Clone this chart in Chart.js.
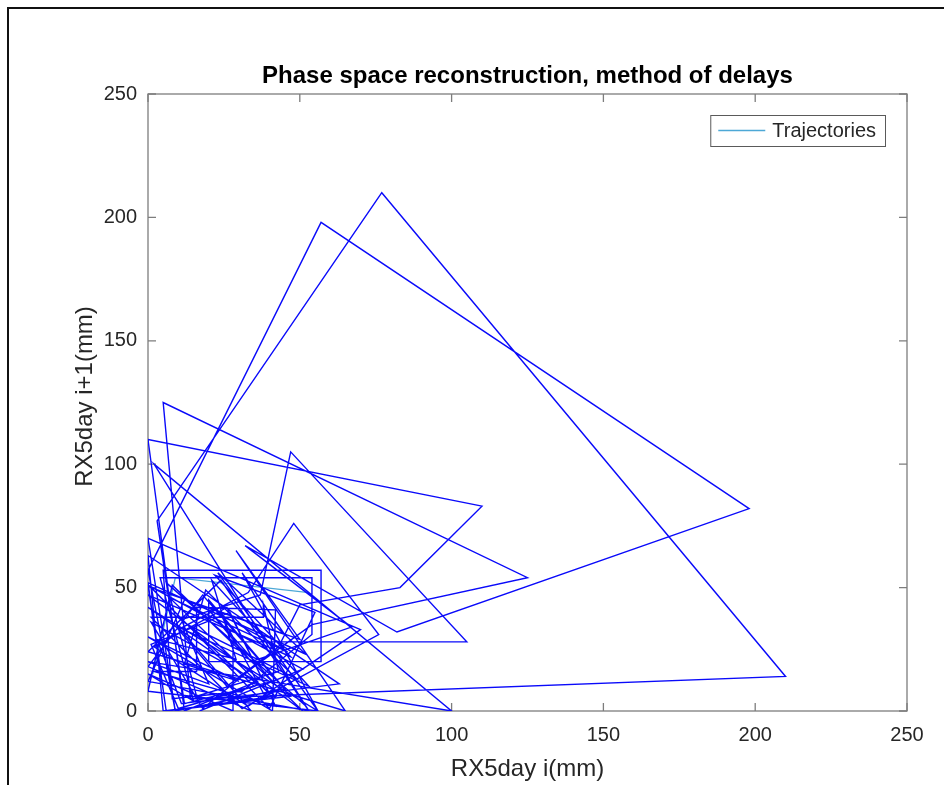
<!DOCTYPE html>
<html>
<head>
<meta charset="utf-8">
<title>Phase space reconstruction</title>
<script src="https://cdn.jsdelivr.net/npm/chart.js@4.4.1/dist/chart.umd.min.js"></script>
<style>
    html, body { margin: 0; padding: 0; background: #fff; }
    #wrap { width: 944px; height: 785px; position: relative; }
</style>
</head>
<body>
<div id="wrap"><canvas id="phaseChart" width="944" height="785"></canvas></div>
<script>
// RX5day series (mm): point i is (rx5day[i], rx5day[i+1])
const rx5day = [
    9, 0, 57, 198, 82, 32, 67, 34, 20, 41, 12, 3, 77, 210, 14, 5, 125, 54, 35, 18, 1, 36,
    12, 0, 110, 83, 50, 43, 26, 10, 33, 48, 76, 31, 1, 38, 38, 43, 16, 6, 52, 2, 100, 0, 20,
    11, 37, 47, 105, 28, 28, 0, 15, 4, 54, 54, 31, 8, 5, 57, 57, 20, 20, 45, 9, 0, 70, 33,
    2, 26, 42, 2, 16, 16, 42, 41, 0, 30, 12, 19, 49, 13, 35, 10, 1, 27, 40, 7, 46, 24, 39,
    5, 0, 63, 11, 3, 29, 21, 53, 10, 34, 0, 18, 47, 6, 0, 52, 23, 56, 0, 8, 51, 0, 47,
    22, 55, 40, 1, 50, 29, 65, 0, 24, 53, 0, 12, 45, 31, 56, 0, 42, 6, 0, 51, 17, 0
];

// the short light-blue trajectory piece (the one in the legend)
const trajX = [1.6, 9, 53];
const trajY = [15, 54, 48];

const axisTicks = [0, 50, 100, 150, 200, 250];

const titleText = 'Phase space reconstruction, method of delays';
const xTitle = 'RX5day i(mm)';
const yTitle = 'RX5day i+1(mm)';
const legendLabel = 'Trajectories';

const FONT = '"Liberation Sans", Arial, Helvetica, sans-serif';
const TEXT_COLOR = '#262626';

// build delay pairs
const delayPoints = [];
for (let i = 0; i < rx5day.length - 1; i++) {
    delayPoints.push({ x: rx5day[i], y: rx5day[i + 1] });
}
const trajPoints = trajX.map((x, i) => ({ x: x, y: trajY[i] }));

/**
 * Draws the MATLAB-style frame: outer border, axes box, inner ticks,
 * title, axis titles and the legend box.
 */
const matlabFrame = {
    id: 'matlabFrame',
    beforeDraw(chart) {
        const ctx = chart.ctx;
        ctx.save();
        ctx.fillStyle = '#fff';
        ctx.fillRect(0, 0, chart.width, chart.height);
        // outer screenshot border (top + left)
        ctx.strokeStyle = '#111';
        ctx.lineWidth = 2;
        ctx.beginPath();
        ctx.moveTo(8, chart.height);
        ctx.lineTo(8, 8);
        ctx.lineTo(chart.width, 8);
        ctx.stroke();
        ctx.restore();
    },
    beforeDatasetsDraw(chart) {
        const ctx = chart.ctx;
        const a = chart.chartArea;
        const xs = chart.scales.x;
        const ys = chart.scales.y;
        ctx.save();
        ctx.strokeStyle = '#7d7d7d';
        ctx.lineWidth = 1.3;
        ctx.strokeRect(a.left, a.top, a.right - a.left, a.bottom - a.top);
        const tl = 8;
        ctx.beginPath();
        axisTicks.forEach(v => {
            const px = xs.getPixelForValue(v);
            ctx.moveTo(px, a.bottom); ctx.lineTo(px, a.bottom - tl);
            ctx.moveTo(px, a.top); ctx.lineTo(px, a.top + tl);
            const py = ys.getPixelForValue(v);
            ctx.moveTo(a.left, py); ctx.lineTo(a.left + tl, py);
            ctx.moveTo(a.right, py); ctx.lineTo(a.right - tl, py);
        });
        ctx.stroke();
        ctx.restore();
    },
    afterDraw(chart) {
        const ctx = chart.ctx;
        const a = chart.chartArea;
        const cx = (a.left + a.right) / 2;
        const cy = (a.top + a.bottom) / 2;
        ctx.save();

        // title
        ctx.fillStyle = '#000';
        ctx.font = 'bold 24px ' + FONT;
        ctx.textAlign = 'center';
        ctx.textBaseline = 'alphabetic';
        ctx.fillText(titleText, cx, a.top - 11);

        // axis titles
        ctx.fillStyle = TEXT_COLOR;
        ctx.font = '24px ' + FONT;
        ctx.fillText(xTitle, cx, a.bottom + 65);
        ctx.save();
        ctx.translate(a.left - 56, cy - 6);
        ctx.rotate(-Math.PI / 2);
        ctx.fillText(yTitle, 0, 0);
        ctx.restore();

        // legend
        ctx.font = '20px ' + FONT;
        const tw = ctx.measureText(legendLabel).width;
        const w = 8 + 47 + 7 + tw + 9;
        const h = 31;
        const right = a.right - 22;
        const top = a.top + 21;
        const left = right - w;
        ctx.fillStyle = '#fff';
        ctx.fillRect(left, top, w, h);
        ctx.strokeStyle = '#5a5a5a';
        ctx.lineWidth = 1;
        ctx.strokeRect(left + 0.5, top + 0.5, w, h);
        ctx.strokeStyle = chart.data.datasets[1].borderColor;
        ctx.lineWidth = 1.3;
        ctx.beginPath();
        ctx.moveTo(left + 8, top + h / 2);
        ctx.lineTo(left + 55, top + h / 2);
        ctx.stroke();
        ctx.fillStyle = TEXT_COLOR;
        ctx.textAlign = 'left';
        ctx.textBaseline = 'middle';
        ctx.fillText(legendLabel, left + 62, top + h / 2 + 1);

        ctx.restore();
    }
};

const ctx = document.getElementById('phaseChart');

new Chart(ctx, {
    type: 'scatter',
    data: {
        datasets: [
            {
                label: 'delay',
                data: delayPoints,
                showLine: true,
                borderColor: 'rgb(10, 10, 250)',
                borderWidth: 1.4,
                pointRadius: 0,
                tension: 0
            },
            {
                label: legendLabel,
                data: trajPoints,
                showLine: true,
                borderColor: 'rgb(77, 168, 214)',
                borderWidth: 1.3,
                pointRadius: 0,
                tension: 0
            }
        ]
    },
    options: {
        responsive: false,
        animation: false,
        devicePixelRatio: 1,
        layout: {
            padding: { left: 0, right: 37, top: 94, bottom: 0 }
        },
        plugins: {
            legend: { display: false },
            title: { display: false },
            tooltip: { enabled: false }
        },
        scales: {
            x: {
                type: 'linear',
                min: 0,
                max: 250,
                afterBuildTicks: s => { s.ticks = axisTicks.map(v => ({ value: v })); },
                afterFit: s => { s.height = 74; },
                grid: { display: false, drawTicks: false },
                border: { display: false },
                ticks: {
                    color: TEXT_COLOR,
                    padding: 12,
                    maxRotation: 0,
                    font: { family: FONT, size: 20 }
                }
            },
            y: {
                type: 'linear',
                min: 0,
                max: 250,
                afterBuildTicks: s => { s.ticks = axisTicks.map(v => ({ value: v })); },
                afterFit: s => { s.width = 148; },
                grid: { display: false, drawTicks: false },
                border: { display: false },
                ticks: {
                    color: TEXT_COLOR,
                    padding: 11,
                    font: { family: FONT, size: 20 }
                }
            }
        }
    },
    plugins: [matlabFrame]
});
</script>
</body>
</html>
